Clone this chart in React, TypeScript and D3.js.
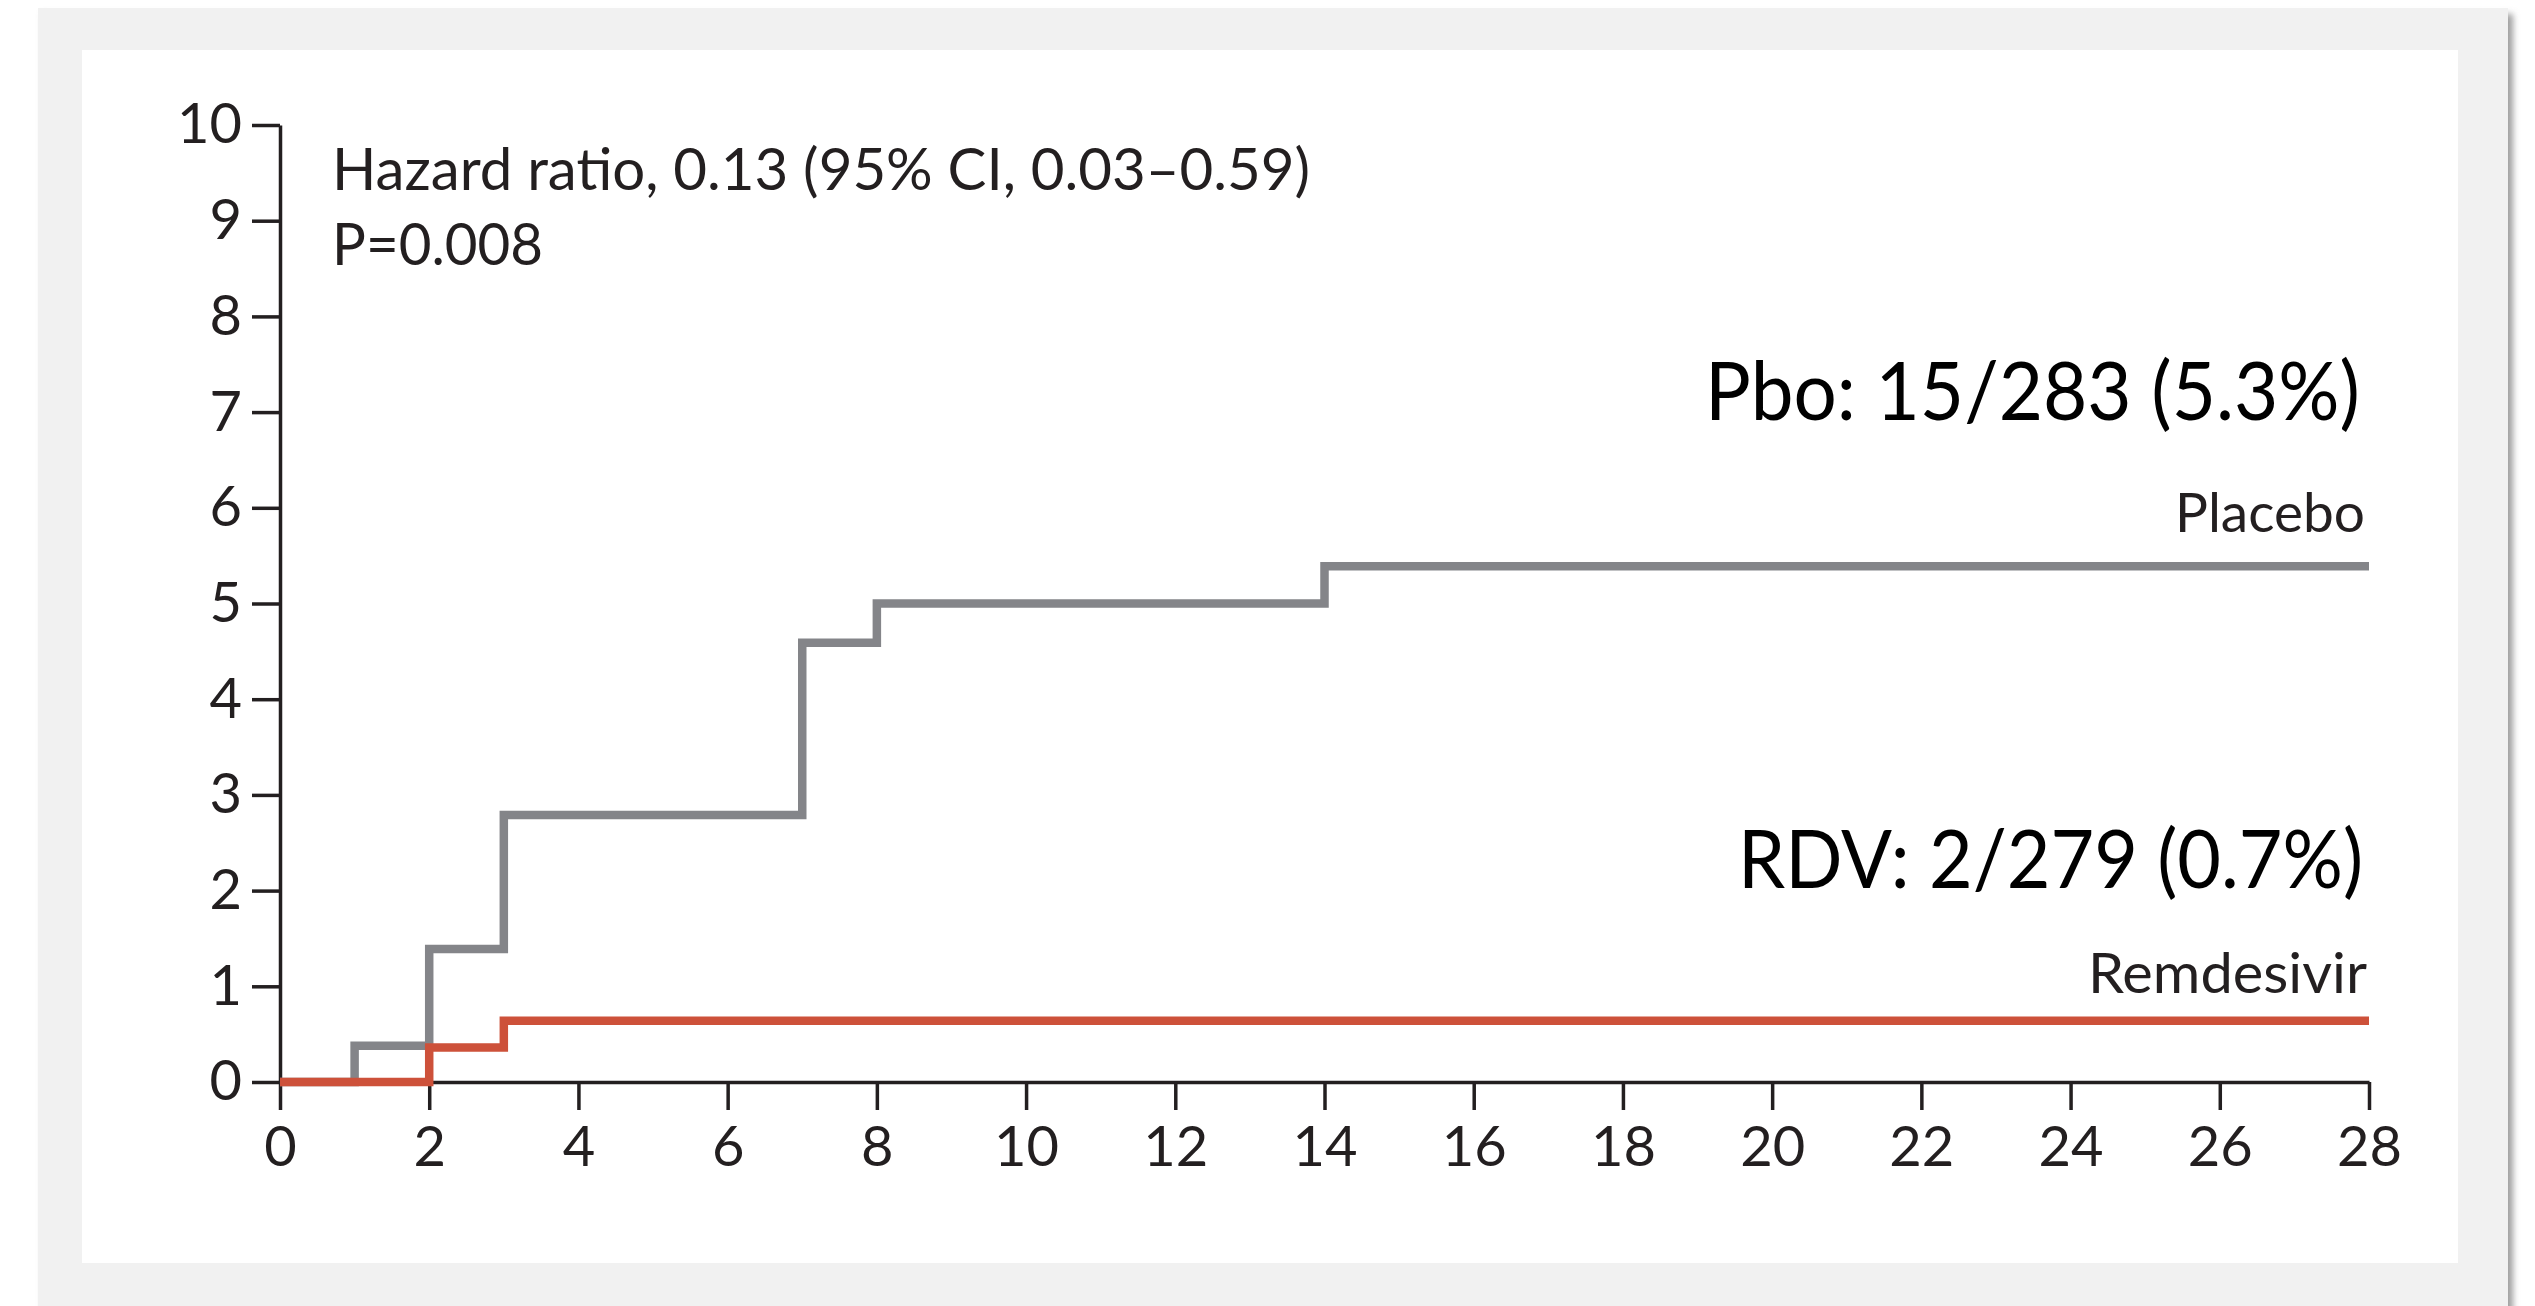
import React, { useEffect, useRef } from "react";
import * as d3 from "d3";

// chart values
const placeboDays = [0, 1, 2, 3, 7, 8, 14, 28];
const placeboPct = [0, 0.38, 1.39, 2.79, 4.59, 5.0, 5.39, 5.39];
const remdesivirDays = [0, 2, 3, 28];
const remdesivirPct = [0, 0.36, 0.64, 0.64];
const xTicks = [0, 2, 4, 6, 8, 10, 12, 14, 16, 18, 20, 22, 24, 26, 28];
const yTicks = [0, 1, 2, 3, 4, 5, 6, 7, 8, 9, 10];
const hazardText = "Hazard ratio, 0.13 (95% CI, 0.03\u20130.59)";
const pText = "P=0.008";
const pboText = "Pbo: 15/283 (5.3%)";
const rdvText = "RDV: 2/279 (0.7%)";

const W = 2535;
const H = 1306;
const FONT = "Lato, 'Open Sans', sans-serif";

function App() {
  const xAxisRef = useRef<SVGGElement>(null);
  const yAxisRef = useRef<SVGGElement>(null);

  const x = d3.scaleLinear().domain([0, 28]).range([280, 2369]);
  const y = d3.scaleLinear().domain([0, 10]).range([1082, 125]);

  const line = d3
    .line<[number, number]>()
    .x((d) => x(d[0]))
    .y((d) => y(d[1]))
    .curve(d3.curveStepAfter);

  const placebo = placeboDays.map((d, i) => [d, placeboPct[i]] as [number, number]);
  const remdesivir = remdesivirDays.map((d, i) => [d, remdesivirPct[i]] as [number, number]);

  useEffect(() => {
    const xa = d3.select(xAxisRef.current);
    xa.call(d3.axisBottom(x).tickValues(xTicks).tickSize(28).tickSizeOuter(0).tickPadding(14));
    const ya = d3.select(yAxisRef.current);
    ya.call(d3.axisLeft(y).tickValues(yTicks).tickSize(28).tickSizeOuter(0).tickPadding(10));

    [xa, ya].forEach((g) => {
      g.select(".domain").attr("stroke", "#231f20").attr("stroke-width", 3.5);
      g.selectAll(".tick line").attr("stroke", "#231f20").attr("stroke-width", 3.5);
      g.selectAll(".tick text")
        .attr("fill", "#231f20")
        .style("font-family", FONT)
        .style("font-size", "56px");
    });
    xa.selectAll(".tick text").attr("dy", "0.75em");
  }, []);

  return (
    <div style={{ position: "absolute", left: 0, top: 0 }}>
      <svg width={W} height={H} style={{ display: "block", background: "#fff" }}>
        <defs>
          <filter id="shadow" x="-5%" y="-5%" width="110%" height="110%">
            <feDropShadow dx="5" dy="6" stdDeviation="3" floodColor="#777" floodOpacity="0.7" />
          </filter>
        </defs>
        {/* frame */}
        <rect x={38} y={8} width={2470} height={1330} fill="#f1f1f1" filter="url(#shadow)" />
        <rect x={82} y={50} width={2376} height={1213} fill="#ffffff" />

        <g ref={yAxisRef} transform={`translate(${x(0)},0)`} />
        <g ref={xAxisRef} transform={`translate(0,${y(0)})`} />

        <path d={line(placebo) ?? ""} fill="none" stroke="#848589" strokeWidth={8.5} />
        <path d={line(remdesivir) ?? ""} fill="none" stroke="#cd513a" strokeWidth={8.5} />

        <g style={{ fontFamily: FONT }} fill="#231f20">
          <text x={332} y={190} fontSize={59} textLength={978} lengthAdjust="spacingAndGlyphs">
            {hazardText}
          </text>
          <text x={332} y={265} fontSize={59} textLength={211} lengthAdjust="spacingAndGlyphs">
            {pText}
          </text>
          <text x={2365} y={532} fontSize={55} textAnchor="end">Placebo</text>
          <text x={2367} y={993} fontSize={56} textAnchor="end" textLength={279} lengthAdjust="spacingAndGlyphs">
            Remdesivir
          </text>
        </g>
        <g style={{ fontFamily: FONT }} fill="#000">
          <text x={2360} y={420} fontSize={82} textAnchor="end" textLength={655} lengthAdjust="spacingAndGlyphs">
            {pboText}
          </text>
          <text x={2363} y={888} fontSize={82} textAnchor="end" textLength={625} lengthAdjust="spacingAndGlyphs">
            {rdvText}
          </text>
        </g>
      </svg>
    </div>
  );
}

export default App;
